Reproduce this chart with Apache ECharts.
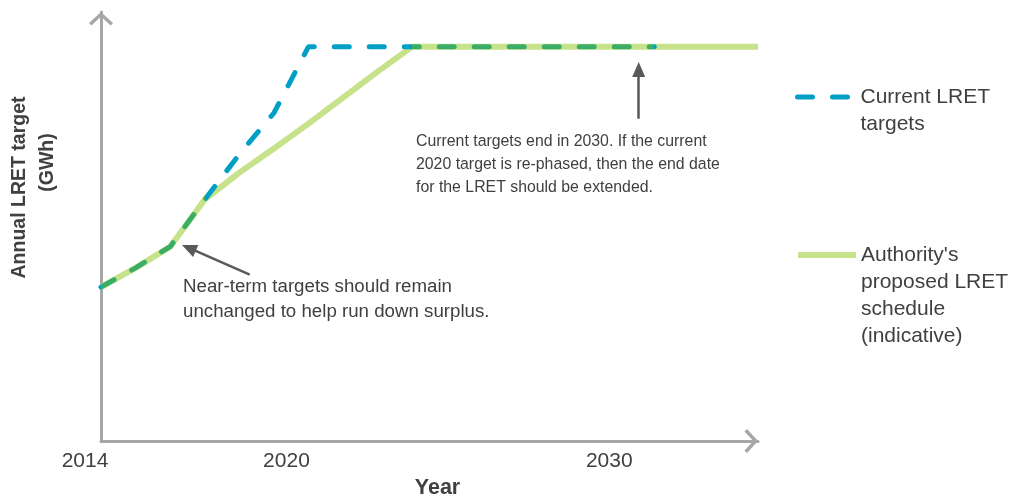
<!DOCTYPE html>
<html>
<head>
<meta charset="utf-8">
<script src="https://cdn.jsdelivr.net/npm/echarts@6/dist/echarts.min.js"></script>
<style>
  html, body { margin: 0; padding: 0; background: #ffffff; }
  #chart { width: 1021px; height: 495px; }
</style>
</head>
<body>
<div id="chart"></div>
<script>
// Years on the horizontal axis
const years = [2014, 2015, 2016, 2017, 2018, 2019, 2020, 2021, 2022, 2023,
               2024, 2025, 2026, 2027, 2028, 2029, 2030, 2031, 2032, 2033];

// Current LRET targets (GWh) - legislated schedule ending in 2030
const currentTargets = [16000, 18000, 20200, 25100, 29800, 34100, 41000, 41000, 41000, 41000,
                        41000, 41000, 41000, 41000, 41000, 41000, 41000, null, null, null];

// Authority's proposed LRET schedule (GWh) - indicative
const proposedSchedule = [16000, 18000, 20200, 25100, 27900, 30400, 33000, 35700, 38400, 41000,
                          41000, 41000, 41000, 41000, 41000, 41000, 41000, 41000, 41000, 41000];

// Year labels shown under the axis
const yearTicks = [2014, 2020, 2030];

// Annotation arrows, given as [from, to] in data space (year, GWh)
const nearTermArrow = [[2018.3, 17300], [2016.54, 20070]];
const endDateArrow = [[2029.55, 33500], [2029.55, 38620]];

const NAME_CURRENT = 'Current LRET targets';
const NAME_PROPOSED = "Authority's proposed LRET schedule (indicative)";
// Legend text: leading blank lines keep the first line level with the icon
const legendText = {};
legendText[NAME_CURRENT] = '\nCurrent LRET\ntargets';
legendText[NAME_PROPOSED] = "\n\n\nAuthority's\nproposed LRET\nschedule\n(indicative)";

const FONT = '"Liberation Sans", Arial, sans-serif';
const TEXT = '#404040';
const AXIS = '#a6a6a6';
const BLUE = '#00a0c6';
const LIGHT_GREEN = '#c6e28b';
const DARK_GREEN = '#3aae66';

// Horizontal shift applied to each year label (px, negative = left)
const tickShift = { 2014: -16, 2020: -22, 2030: -45 };

// Open chevron used as the axis arrow head
const chevron = 'path://M0,11 L12,0 L24,11 L21.6,13.5 L12,4.6 L2.4,13.5 Z';

const pairs = (vals) => years.map((y, i) => [y, vals[i]]).filter(p => p[1] != null);

// Where both schedules coincide the dashed line is tinted green
const overlapRuns = [];
years.forEach((y, i) => {
  const same = currentTargets[i] != null && currentTargets[i] === proposedSchedule[i];
  if (!same) return;
  const last = overlapRuns[overlapRuns.length - 1];
  if (last && last.end === years[i - 1]) last.end = y;
  else overlapRuns.push({ start: y, end: y });
});

const rich = {};
yearTicks.forEach(t => {
  rich['t' + t] = {
    fontSize: 21, fontFamily: FONT, color: TEXT,
    padding: [0, -2 * tickShift[t], 0, 0]
  };
});

const chart = echarts.init(document.getElementById('chart'), null, { renderer: 'canvas' });

const legendBase = {
  orient: 'vertical',
  left: 795,
  padding: 0,
  itemWidth: 58,
  itemHeight: 14,
  selectedMode: false,
  itemStyle: { opacity: 0 },
  formatter: name => legendText[name]
};
const legendTextStyle = { fontSize: 21, fontFamily: FONT, color: TEXT, lineHeight: 27 };

chart.setOption({
  animation: false,
  backgroundColor: '#ffffff',
  grid: { left: 101, top: 12, right: 263, bottom: 54, containLabel: false, outerBoundsMode: 'none' },
  xAxis: {
    type: 'value',
    min: 2014,
    max: 2033,
    name: 'Year',
    nameLocation: 'middle',
    nameGap: 34,
    nameTextStyle: { fontSize: 21.5, fontWeight: 'bold', fontFamily: FONT, color: TEXT, padding: [0, 0, 0, 16] },
    axisLine: {
      show: true,
      lineStyle: { color: AXIS, width: 3 },
      symbol: ['none', chevron],
      symbolSize: [24, 13.5],
      symbolOffset: [0, -6.75]
    },
    axisTick: { show: false },
    splitLine: { show: false },
    axisLabel: {
      customValues: yearTicks,
      margin: 10,
      formatter: v => '{t' + v + '|' + v + '}',
      rich: rich
    }
  },
  yAxis: {
    type: 'value',
    min: 0,
    max: 44600,
    name: '{a|Annual LRET target}\n{b|(GWh)}',
    nameLocation: 'middle',
    nameRotate: 90,
    nameGap: 39,
    nameTextStyle: {
      fontSize: 19.5, fontWeight: 'bold', fontFamily: FONT, color: TEXT,
      lineHeight: 28, padding: [0, 0, 0, 78],
      rich: {
        a: { fontSize: 19.5, fontWeight: 'bold', fontFamily: FONT, color: TEXT, lineHeight: 28 },
        b: { fontSize: 19.5, fontWeight: 'bold', fontFamily: FONT, color: TEXT, lineHeight: 28, padding: [0, 0, 0, 50] }
      }
    },
    axisLine: {
      show: true,
      lineStyle: { color: AXIS, width: 3 },
      symbol: ['none', chevron],
      symbolSize: [24, 13.5],
      symbolOffset: [0, -6.75]
    },
    axisTick: { show: false },
    axisLabel: { show: false },
    splitLine: { show: false }
  },
  legend: [
    Object.assign({}, legendBase, {
      top: 56.5,
      data: [NAME_CURRENT],
      lineStyle: { color: BLUE, width: 5, type: [15, 20], cap: 'round' },
      textStyle: legendTextStyle
    }),
    Object.assign({}, legendBase, {
      top: 160.5,
      data: [NAME_PROPOSED],
      lineStyle: { color: LIGHT_GREEN, width: 6, type: 'solid', cap: 'butt' },
      textStyle: legendTextStyle
    })
  ],
  visualMap: {
    type: 'piecewise',
    show: false,
    seriesIndex: 1,
    dimension: 0,
    pieces: overlapRuns.map(r => ({ gte: r.start, lte: r.end, color: DARK_GREEN })),
    outOfRange: { color: BLUE }
  },
  series: [
    {
      name: NAME_PROPOSED,
      type: 'line',
      data: pairs(proposedSchedule),
      symbol: 'none',
      silent: true,
      z: 2,
      color: LIGHT_GREEN,
      lineStyle: { width: 6, cap: 'butt' },
      markLine: {
        silent: true,
        symbol: ['none', 'triangle'],
        symbolSize: [13, 15],
        label: { show: false },
        lineStyle: { color: '#595959', width: 2.5, type: 'solid' },
        emphasis: { disabled: true },
        data: [
          [{ coord: nearTermArrow[0] }, { coord: nearTermArrow[1] }],
          [{ coord: endDateArrow[0] }, { coord: endDateArrow[1] }]
        ]
      }
    },
    {
      name: NAME_CURRENT,
      type: 'line',
      data: pairs(currentTargets),
      symbol: 'none',
      silent: true,
      z: 3,
      color: BLUE,
      lineStyle: { width: 5, type: [15, 20], cap: 'round' }
    }
  ],
  graphic: [
    {
      type: 'text',
      left: 183,
      top: 274.5,
      silent: true,
      style: {
        text: 'Near-term targets should remain\nunchanged to help run down surplus.',
        fontSize: 18.7, fontFamily: FONT, fill: TEXT, lineHeight: 25
      }
    },
    {
      type: 'text',
      left: 416,
      top: 130.5,
      silent: true,
      style: {
        text: 'Current targets end in 2030. If the current\n2020 target is re-phased, then the end date\nfor the LRET should be extended.',
        fontSize: 15.85, fontFamily: FONT, fill: TEXT, lineHeight: 23
      }
    }
  ]
});
</script>
</body>
</html>
